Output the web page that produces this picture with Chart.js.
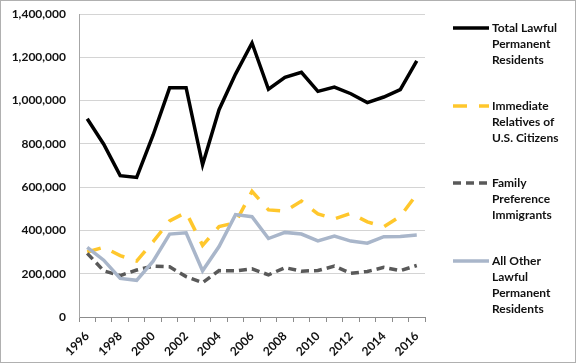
<!DOCTYPE html>
<html>
<head>
<meta charset="utf-8">
<script src="https://cdn.jsdelivr.net/npm/chart.js@4/dist/chart.umd.min.js"></script>
<style>
  html, body { margin: 0; padding: 0; background: #fff; }
  #wrap { position: relative; width: 577px; height: 364px; }
</style>
</head>
<body>
<div id="wrap"><canvas id="chart" width="577" height="364"></canvas></div>
<script>
// ------------------- Data -------------------
const years = ['1996', '1997', '1998', '1999', '2000', '2001', '2002', '2003', '2004', '2005', '2006',
    '2007', '2008', '2009', '2010', '2011', '2012', '2013', '2014', '2015', '2016'];

const totalLPR = [915900, 798400, 653200, 644800, 841000, 1058900, 1059400, 703500, 957900, 1122300, 1266100,
    1052400, 1107100, 1130800, 1042600, 1062000, 1031600, 990600, 1016500, 1051000, 1183500];
const immediateRelatives = [300400, 322400, 283400, 258600, 347900, 444000, 483700, 331300, 417800, 436100, 580300,
    494900, 488500, 535600, 476400, 453200, 478800, 439500, 416500, 465100, 566700];
const familyPreference = [294200, 213300, 191500, 216900, 235100, 231700, 186900, 158800, 214400, 213000, 222200,
    194900, 227800, 211900, 214600, 234900, 202000, 210300, 229100, 213900, 238100];
const allOther = [321300, 262600, 178400, 169300, 258000, 383200, 388800, 213500, 325700, 473200, 463600,
    362600, 390900, 383400, 351600, 374000, 350800, 340800, 371000, 372100, 378700];

const seriesNames = [
    ['Total Lawful', 'Permanent', 'Residents'],
    ['Immediate', 'Relatives of', 'U.S. Citizens'],
    ['Family', 'Preference', 'Immigrants'],
    ['All Other', 'Lawful', 'Permanent', 'Residents']
];

const yMax = 1400000;
const yStep = 200000;

// ------------------- Styles -------------------
const FONT = 'Lato, "Open Sans", sans-serif';
const styles = [
    { color: '#000000', dash: [] },
    { color: '#FFC72C', dash: [14, 12] },
    { color: '#595959', dash: [8, 5] },
    { color: '#A9B6CA', dash: [] }
];

// ------------------- Custom legend + frame -------------------
const sideLegend = {
    id: 'sideLegend',
    beforeDraw(chart) {
        const ctx = chart.ctx;
        ctx.save();
        ctx.fillStyle = '#fff';
        ctx.fillRect(0, 0, chart.width, chart.height);
        ctx.restore();
    },
    afterDraw(chart) {
        const ctx = chart.ctx;
        const tops = [28, 106, 183, 261];
        ctx.save();
        chart.data.datasets.forEach((ds, i) => {
            const y = tops[i];
            ctx.strokeStyle = ds.borderColor;
            ctx.lineWidth = 3.5;
            ctx.setLineDash(ds.borderDash || []);
            ctx.beginPath();
            ctx.moveTo(453, y);
            ctx.lineTo(489, y);
            ctx.stroke();
            ctx.setLineDash([]);
            ctx.fillStyle = '#111';
            ctx.font = 'bold 12px ' + FONT;
            ctx.textBaseline = 'middle';
            ctx.textAlign = 'left';
            seriesNames[i].forEach((line, j) => ctx.fillText(line, 492, y + j * 16));
        });
        // outer frame
        ctx.strokeStyle = '#b0b0b0';
        ctx.lineWidth = 1;
        ctx.strokeRect(0.5, 0.5, chart.width - 2, chart.height - 2);
        ctx.restore();
    }
};

const seriesData = [totalLPR, immediateRelatives, familyPreference, allOther];

new Chart(document.getElementById('chart'), {
    type: 'line',
    data: {
        labels: years,
        datasets: seriesData.map((values, i) => ({
            label: seriesNames[i].join(' '),
            data: values,
            borderColor: styles[i].color,
            backgroundColor: styles[i].color,
            borderDash: styles[i].dash,
            borderWidth: 3.5,
            pointRadius: 0,
            tension: 0,
            fill: false,
            order: 4 - i
        }))
    },
    options: {
        responsive: false,
        animation: false,
        layout: { padding: { top: 14, right: 152, left: 0, bottom: 0 } },
        plugins: {
            legend: { display: false },
            tooltip: { enabled: false }
        },
        scales: {
            x: {
                offset: true,
                afterFit: (scale) => { scale.height = 47; },
                grid: { offset: true, drawOnChartArea: false, color: '#8c8c8c', tickLength: 5 },
                border: { color: '#8c8c8c' },
                ticks: {
                    autoSkip: false,
                    minRotation: 45,
                    maxRotation: 45,
                    padding: 7,
                    color: '#111',
                    font: { family: FONT, size: 12, weight: 'bold' },
                    callback: (val, i) => (i % 2 === 0 ? years[i] : '')
                }
            },
            y: {
                min: 0,
                max: yMax,
                afterFit: (scale) => {
                    scale.width = 79;
                    scale.paddingTop = 0;
                    scale.paddingBottom = 0;
                },
                grid: { color: '#d4d4d4', drawTicks: false },
                border: { color: '#a6a6a6' },
                ticks: {
                    stepSize: yStep,
                    padding: 13,
                    color: '#111',
                    font: { family: FONT, size: 12, weight: 'bold' },
                    callback: (v) => v.toLocaleString('en-US')
                }
            }
        }
    },
    plugins: [sideLegend]
});
</script>
</body>
</html>
